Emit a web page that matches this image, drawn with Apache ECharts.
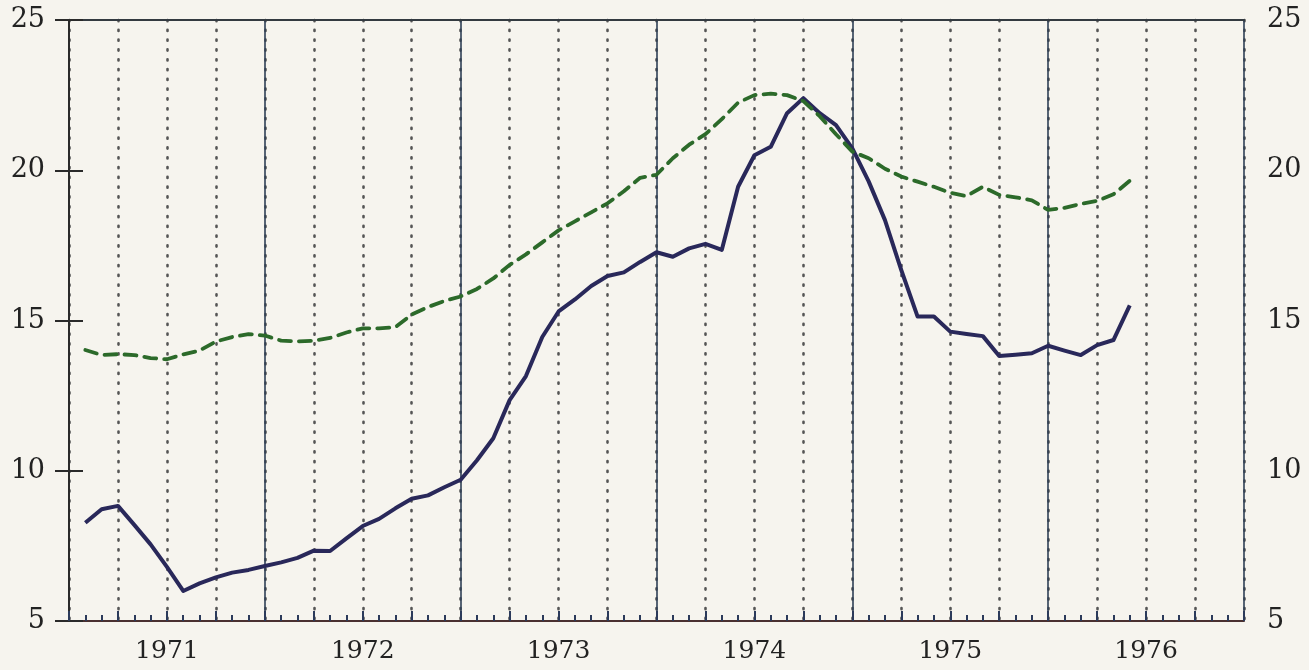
<!DOCTYPE html>
<html>
<head>
<meta charset="utf-8">
<script src="https://cdn.jsdelivr.net/npm/echarts@6/dist/echarts.min.js"></script>
<style>
  html, body { margin: 0; padding: 0; background: #f6f4ee; }
  #chart { width: 1309px; height: 670px; }
</style>
</head>
<body>
<div id="chart"></div>
<script>
// months counted from Jan 1971 (0) to Jan 1977 (72); first point is Feb 1971
var firstMonth = 1
var yearLabels = ['1971', '1972', '1973', '1974', '1975', '1976']
var yTicks = [5, 10, 15, 20, 25]

// solid line (dark blue)
var solidValues = [
  8.27, 8.72, 8.83, 8.2, 7.55, 6.8, 6.0, 6.25, 6.45, 6.61, 6.70, 6.83,
  6.95, 7.1, 7.34, 7.33, 7.75, 8.16, 8.4, 8.75, 9.07, 9.18, 9.45, 9.7,
  10.35, 11.08, 12.35, 13.15, 14.45, 15.3, 15.7, 16.15, 16.48, 16.6, 16.95, 17.27,
  17.12, 17.4, 17.55, 17.35, 19.45, 20.5, 20.78, 21.9, 22.4, 21.9, 21.5, 20.73,
  19.63, 18.34, 16.68, 15.13, 15.13, 14.63, 14.55, 14.48, 13.82, 13.86, 13.91, 14.16,
  14.0, 13.85, 14.18, 14.35, 15.5
]

// dashed line (green)
var dashedValues = [
  14.02, 13.85, 13.88, 13.85, 13.75, 13.71, 13.87, 14.0, 14.3, 14.45, 14.55, 14.5,
  14.33, 14.3, 14.33, 14.42, 14.6, 14.74, 14.74, 14.78, 15.2, 15.45, 15.65, 15.8,
  16.05, 16.4, 16.85, 17.2, 17.6, 18.0, 18.3, 18.6, 18.9, 19.3, 19.75, 19.85,
  20.4, 20.85, 21.2, 21.7, 22.25, 22.5, 22.55, 22.5, 22.3, 21.8, 21.2, 20.62,
  20.4, 20.05, 19.79, 19.62, 19.45, 19.25, 19.14, 19.45, 19.18, 19.1, 19.0, 18.68,
  18.75, 18.88, 18.98, 19.2, 19.65
]

function toPoints(values) {
  return values.map(function (v, i) { return [firstMonth + i, v] })
}

var fontFamily = '"DejaVu Serif", "Liberation Serif", serif'
var textColor = '#222'

var chart = echarts.init(document.getElementById('chart'))
var option = {
  backgroundColor: '#f6f4ee',
  animation: false,
  grid: { left: 69, right: 65, top: 20, bottom: 49 },
  xAxis: [
    {
      // quarter dotted lines + monthly ticks
      type: 'value', position: 'bottom', min: 0, max: 72, interval: 3,
      axisLine: { show: true, lineStyle: { color: '#4a3030', width: 2 } },
      axisTick: { show: true, inside: true, length: 10, lineStyle: { color: '#2b3a5a', width: 2 } },
      minorTick: { show: true, splitNumber: 3, length: 6, lineStyle: { color: '#2b3a5a', width: 2 } },
      axisLabel: { show: false },
      splitLine: { show: true, lineStyle: { color: '#555', width: 2.6, type: [1.2, 8.6], cap: 'round' } }
    },
    {
      // year boundaries (solid) and the top border
      type: 'value', position: 'top', min: 0, max: 72, interval: 12,
      axisLine: { show: true, lineStyle: { color: '#333a40', width: 2 } },
      axisTick: { show: false },
      axisLabel: { show: false },
      splitLine: { show: true, lineStyle: { color: '#2f3f55', width: 1.6 } }
    },
    {
      // year labels in the middle of each year
      type: 'value', position: 'bottom', min: 0, max: 72, interval: 6,
      axisLine: { show: false },
      axisTick: { show: false },
      splitLine: { show: false },
      axisLabel: {
        show: true, margin: 18, color: textColor, fontFamily: fontFamily, fontSize: 25,
        formatter: function (v) {
          if (v % 12 !== 6) return ''
          return yearLabels[(v - 6) / 12] || ''
        }
      }
    }
  ],
  yAxis: [
    {
      type: 'value', position: 'left', min: yTicks[0], max: yTicks[yTicks.length - 1], interval: 5,
      axisLine: { show: true, lineStyle: { color: '#2a2a2a', width: 2 } },
      axisTick: { show: true, length: 14, lineStyle: { color: '#2a2a2a', width: 2 } },
      axisLabel: { margin: 24, color: textColor, fontFamily: fontFamily, fontSize: 27 },
      splitLine: { show: false }
    },
    {
      type: 'value', position: 'right', min: yTicks[0], max: yTicks[yTicks.length - 1], interval: 5,
      axisLine: { show: true, lineStyle: { color: '#2a2a2a', width: 2 } },
      axisTick: { show: true, length: 14, lineStyle: { color: '#2a2a2a', width: 2 } },
      axisLabel: { margin: 23, color: textColor, fontFamily: fontFamily, fontSize: 27 },
      splitLine: { show: false }
    }
  ],
  series: [
    {
      name: 'solid',
      type: 'line',
      xAxisIndex: 0,
      yAxisIndex: 0,
      symbol: 'none',
      lineStyle: { color: '#29285a', width: 4, join: 'round' },
      data: toPoints(solidValues)
    },
    {
      name: 'dashed',
      type: 'line',
      xAxisIndex: 0,
      yAxisIndex: 0,
      symbol: 'none',
      lineStyle: { color: '#2c6a2a', width: 3.8, type: [12, 8], cap: 'round' },
      data: toPoints(dashedValues)
    }
  ]
}
chart.setOption(option)
</script>
</body>
</html>
